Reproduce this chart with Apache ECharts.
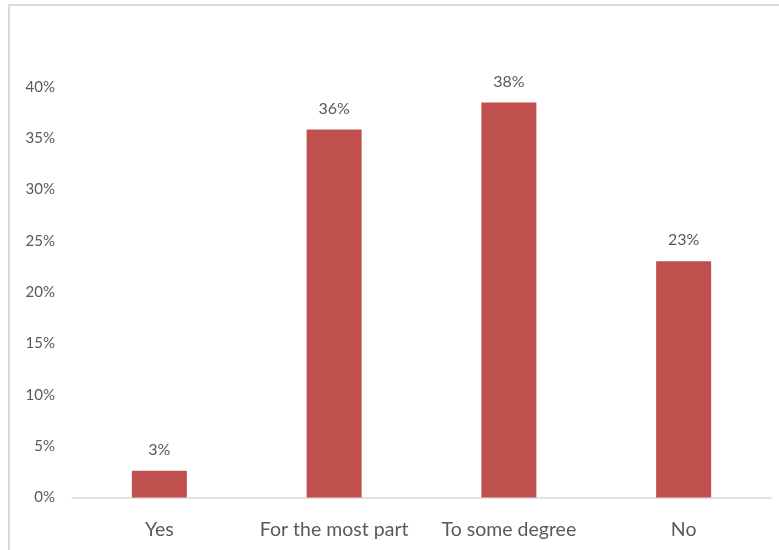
<!DOCTYPE html>
<html>
<head>
<meta charset="utf-8">
<script src="https://cdn.jsdelivr.net/npm/echarts@6/dist/echarts.min.js"></script>
<style>
  html, body { margin: 0; padding: 0; background: #ffffff; }
  #chart { width: 779px; height: 550px; }
</style>
</head>
<body>
<div id="chart"></div>
<script>
// Survey answers and their shares (percent)
const categories = ['Yes', 'For the most part', 'To some degree', 'No'];
const shares = [2.6, 35.85, 38.48, 23.03];
const yTicks = { min: 0, max: 40, step: 5 };

const textColor = '#595959';
const fontFamily = 'Lato, "Open Sans", sans-serif';

const chart = echarts.init(document.getElementById('chart'), null, { renderer: 'canvas' });

chart.setOption({
  backgroundColor: '#ffffff',
  animation: false,
  graphic: [{
    type: 'rect',
    shape: { x: 9, y: 5, width: 800, height: 600 },
    style: { fill: 'none', stroke: '#d9d9d9', lineWidth: 2 },
    silent: true,
    z: -1
  }],
  grid: { left: 72, right: 8, top: 87, bottom: 52.5, containLabel: false },
  xAxis: {
    type: 'category',
    data: categories,
    axisLine: { show: true, lineStyle: { color: '#d9d9d9', width: 1.5 } },
    axisTick: { show: false },
    axisLabel: {
      color: textColor, fontSize: 19.5, fontFamily: fontFamily, margin: 22,
      interval: 0, hideOverlap: false
    },
    splitLine: { show: false }
  },
  yAxis: {
    type: 'value',
    min: yTicks.min,
    max: yTicks.max,
    interval: yTicks.step,
    axisLine: { show: false },
    axisTick: { show: false },
    splitLine: { show: false },
    axisLabel: {
      color: textColor, fontSize: 15, fontFamily: fontFamily, margin: 17,
      formatter: v => v + '%'
    }
  },
  series: [{
    type: 'bar',
    data: shares,
    barWidth: 55,
    itemStyle: { color: '#C0504D' },
    label: {
      show: true,
      position: 'top',
      distance: 13,
      color: textColor,
      fontSize: 16,
      fontFamily: fontFamily,
      formatter: p => Math.round(p.value) + '%'
    }
  }]
});
</script>
</body>
</html>
